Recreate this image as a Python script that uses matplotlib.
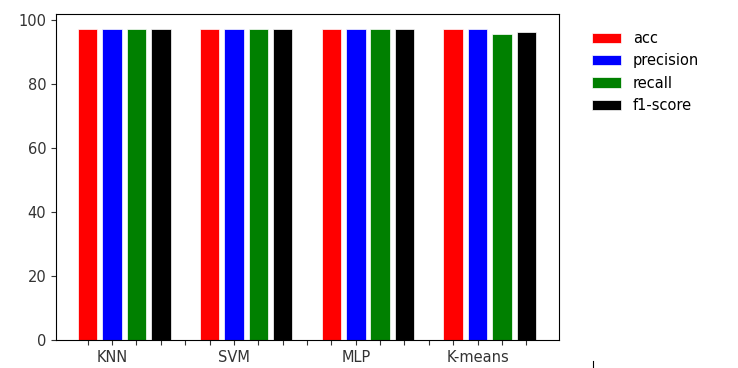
import numpy as np
import matplotlib.pyplot as plt
from matplotlib.lines import Line2D

# data
models = ['KNN', 'SVM', 'MLP', 'K-means']
metrics = ['acc', 'precision', 'recall', 'f1-score']
colors = ['red', 'blue', 'green', 'black']
acc = [97.3, 97.3, 97.3, 97.3]
precision = [97.3, 97.3, 97.3, 97.3]
recall = [97.3, 97.3, 97.3, 95.5]
f1_score = [97.3, 97.3, 97.3, 96.4]
series = [acc, precision, recall, f1_score]

plt.rcParams['font.size'] = 10.5

fig = plt.figure(figsize=(7.38, 3.68), dpi=100)
ax = fig.add_axes([56/738, 1 - 340/368, (559 - 56)/738, (340 - 14)/368])

n = len(metrics)
group = np.arange(len(models)) * (n + 1)
for j, (name, vals) in enumerate(zip(metrics, series)):
    ax.bar(group + j, vals, width=0.8, color=colors[j], edgecolor='white',
           linewidth=0.5, label=name)

# one tick per slot, labels under the second bar of each group
nticks = len(models) * (n + 1) - 1
labels = [''] * nticks
for i, m in enumerate(models):
    labels[i*(n + 1) + 1] = m
ax.set_xticks(np.arange(nticks))
ax.set_xticklabels(labels)
ax.set_xlim(-1.3, 19.34)
ax.set_ylim(0, 101.9)
ax.tick_params(colors='#333333')

ax.legend(loc='upper left', bbox_to_anchor=(1.04, 0.988), frameon=False)

# small stray mark at the bottom right of the original
fig.add_artist(Line2D([593/738, 593/738], [0, 7/368], color='black', lw=0.8))

fig.savefig('out.png', dpi=100)
